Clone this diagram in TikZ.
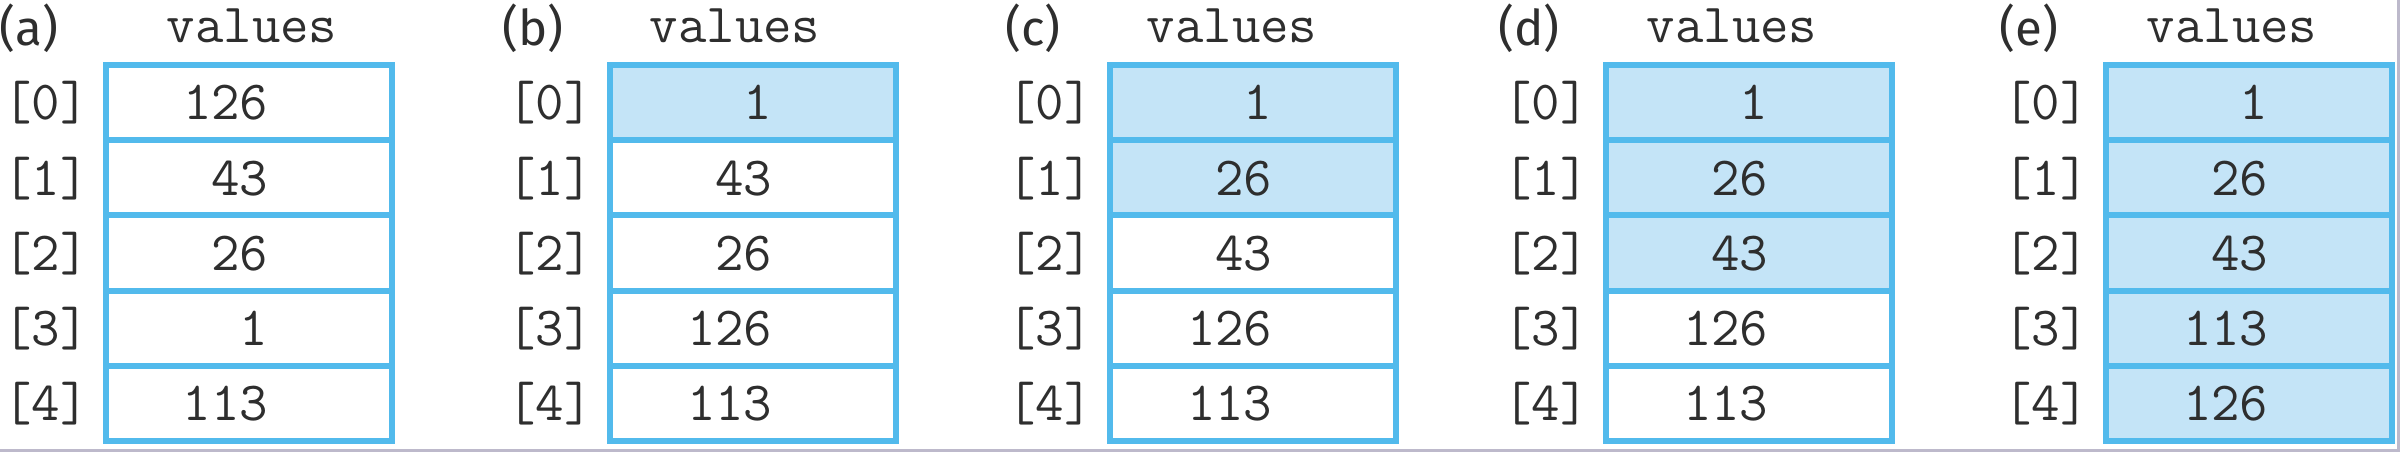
\documentclass[tikz,border=0pt]{standalone}
\usepackage{fontspec}
\newfontfamily\tagfont{Fira Sans}
\usepackage{tikz}
\definecolor{cellline}{HTML}{52BAEC}
\definecolor{cellfill}{HTML}{C4E4F7}
\definecolor{inktext}{HTML}{2E2E2E}
\definecolor{frameedge}{HTML}{BDB9CB}
\tikzset{
  cell/.style={rectangle, draw=cellline, line width=0.06cm, fill=white,
               minimum width=2.86cm, minimum height=0.752cm, inner sep=0pt},
  cellon/.style={cell, fill=cellfill},
  valtxt/.style={anchor=base east, inner sep=0pt, text=inktext,
                 font=\ttfamily\fontsize{15.7}{18}\selectfont},
  idxtxt/.style={anchor=base, inner sep=0pt, text=inktext,
                 font=\ttfamily\fontsize{15.7}{18}\selectfont},
  headtxt/.style={anchor=base, inner sep=0pt, text=inktext,
                  font=\ttfamily\fontsize{15.7}{18}\selectfont},
  tagtxt/.style={anchor=base, inner sep=0pt, text=inktext,
                 font=\tagfont\fontsize{14}{17}\selectfont},
}

\begin{document}
\begin{tikzpicture}[x=0.01cm, y=0.01cm]
  \useasboundingbox (0,0) rectangle (2400,452);

  % one panel per step: left edge / tag / header offset / filled rows / values
  \foreach \ox/\tg/\hx/\nf/\vals in {106/a/146/0/{126,43,26,1,113},
                                     610/b/125/1/{1,43,26,126,113},
                                     1110/c/122/2/{1,26,43,126,113},
                                     1606/d/126/3/{1,26,43,126,113},
                                     2106/e/126/5/{1,26,43,113,126}} {
    \node[tagtxt]  (\tg-tag)  at ({\ox-77},406)     {(\tg)};
    \node[headtxt] (\tg-head) at ({\ox+\hx},409)    {values};
    \foreach \v [count=\i from 0] in \vals {
      \ifnum\i<\nf \def\cst{cellon}\else\def\cst{cell}\fi
      \node[\cst]    (\tg-cell\i) at ({\ox+143},{387-75.2*\i-37.6}) {};
      \node[valtxt]  (\tg-val\i)  at ({\ox+163},{387-75.2*\i-55})   {\v};
      \node[idxtxt]  (\tg-idx\i)  at ({\ox-60},{387-75.2*\i-55})    {[\i]};
    }
  }

  % screenshot edge
  \draw[frameedge, line width=0.03cm] (0,1) -- (2398.5,1) -- (2398.5,452);
\end{tikzpicture}
\end{document}
